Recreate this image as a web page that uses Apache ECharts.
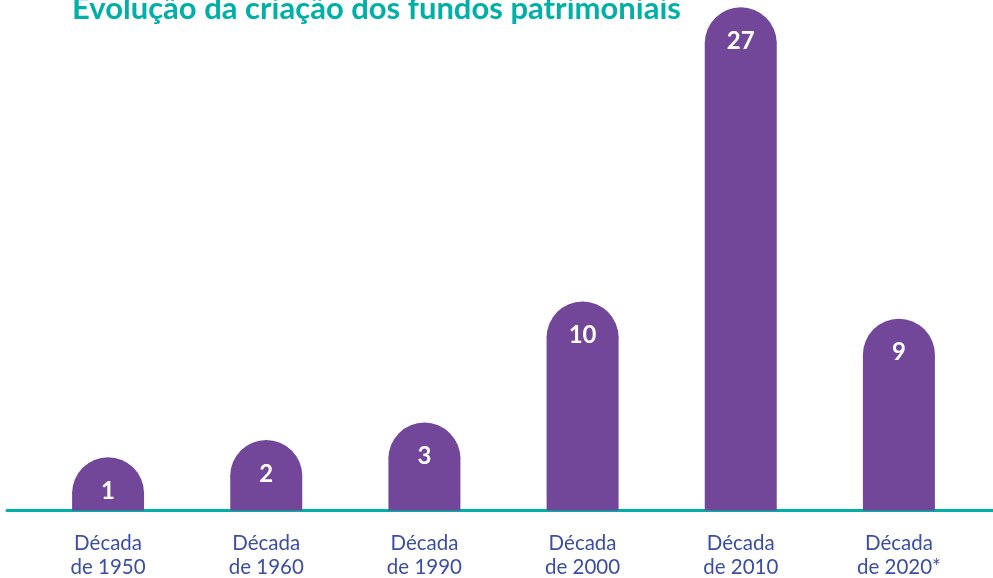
<!DOCTYPE html>
<html>
<head>
<meta charset="utf-8">
<script src="https://cdn.jsdelivr.net/npm/echarts@6/dist/echarts.min.js"></script>
<style>
  html, body { margin: 0; padding: 0; background: #fff; }
  #main { width: 993px; height: 578px; }
</style>
</head>
<body>
<div id="main"></div>
<script>
var categories = ['Década\nde 1950', 'Década\nde 1960', 'Década\nde 1990', 'Década\nde 2000', 'Década\nde 2010', 'Década\nde 2020*'];
var fundos = [1, 2, 3, 10, 27, 9];

var purple = '#724799';
var teal = '#00b0a6';

var myChart = echarts.init(document.getElementById('main'));
myChart.setOption({
  animation: false,
  title: {
    text: 'Evolução da criação dos fundos patrimoniais',
    left: 67,
    top: -12,
    textStyle: { color: teal, fontFamily: 'Lato', fontWeight: 'bold', fontSize: 31 }
  },
  grid: [
    { left: 29, right: 15, top: 0, bottom: 67.5, outerBoundsMode: 'none' },
    { left: 7, right: 0, top: 0, bottom: 67.5, outerBoundsMode: 'none' }
  ],
  xAxis: [{
    type: 'category',
    data: categories,
    axisLine: { show: false },
    axisTick: { show: false },
    axisLabel: {
      color: '#3b4ea2', fontFamily: 'Lato', fontSize: 20.5, lineHeight: 24, margin: 21
    }
  }, {
    type: 'category',
    gridIndex: 1,
    data: [''],
    axisLine: { lineStyle: { color: teal, width: 3 } },
    axisTick: { show: false },
    axisLabel: { show: false }
  }],
  yAxis: [{
    type: 'value',
    min: 0,
    max: 29.5,
    show: false
  }, {
    type: 'value',
    gridIndex: 1,
    show: false
  }],
  series: [{
    type: 'custom',
    data: fundos.map(function (v, i) { return [i, v]; }),
    encode: { x: 0, y: 1 },
    z: 3,
    renderItem: function (params, api) {
      var base = api.coord([api.value(0), 0]);
      var top = api.coord([api.value(0), api.value(1)]);
      var r = 36;
      return {
        type: 'group',
        children: [{
          type: 'rect',
          shape: { x: top[0] - r, y: top[1] - 1, width: r * 2, height: base[1] - top[1] + 1 },
          style: { fill: purple }
        }, {
          type: 'sector',
          shape: { cx: top[0], cy: top[1], r: r, r0: 0, startAngle: Math.PI, endAngle: Math.PI * 2 },
          style: { fill: purple }
        }, {
          type: 'text',
          style: {
            text: String(api.value(1)),
            x: top[0], y: top[1] - 2,
            align: 'center', verticalAlign: 'middle',
            fill: '#fff', font: 'bold 24px Lato'
          }
        }]
      };
    }
  }]
});
</script>
</body>
</html>
